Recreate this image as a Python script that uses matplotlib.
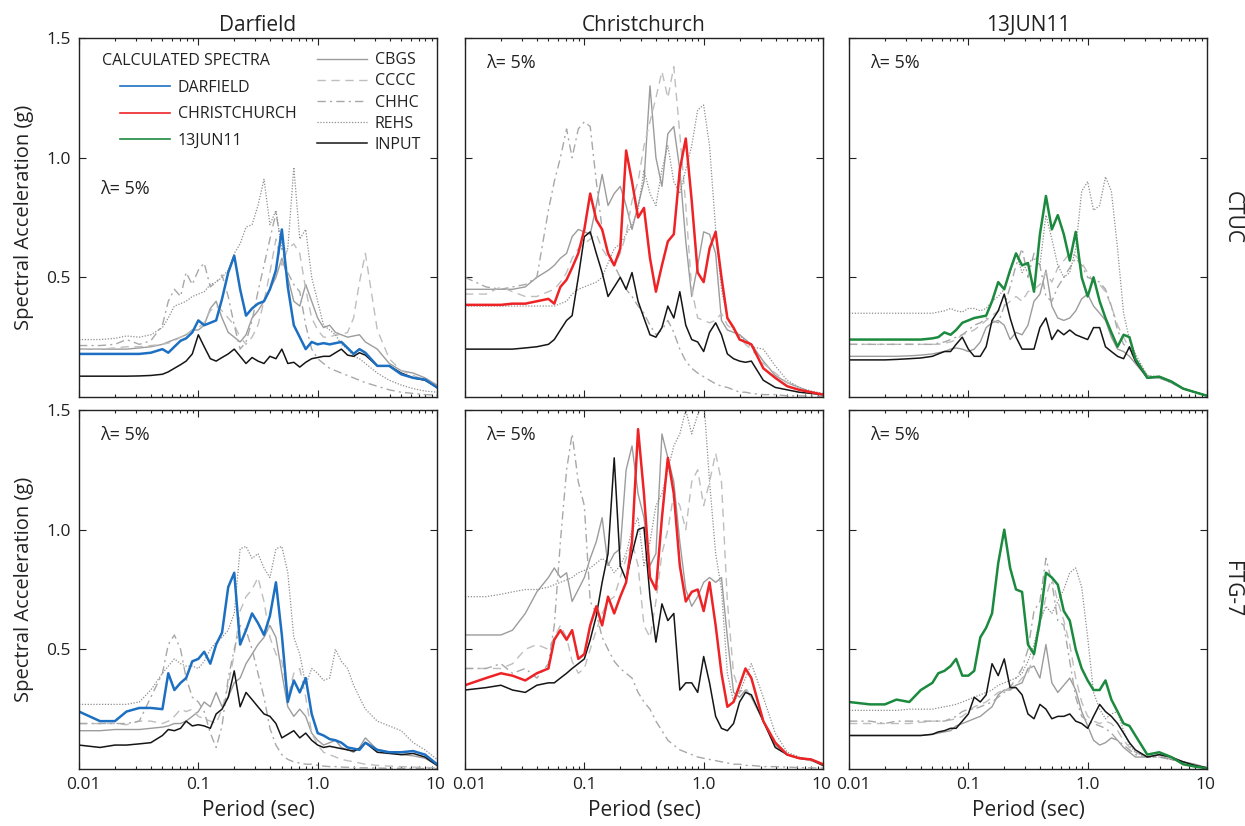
"""Response spectra, calculated vs recorded, sites CTUC and FTG-7."""

import matplotlib

matplotlib.use("Agg")
import matplotlib.pyplot as plt
import matplotlib.transforms as mtransforms
from matplotlib.lines import Line2D
from matplotlib.ticker import LogLocator, NullFormatter

plt.rcParams["font.family"] = ["Open Sans", "DejaVu Sans"]
TXT = "#222222"

# period grid (sec) shared by every spectrum
PERIOD = [0.01, 0.015, 0.02, 0.025, 0.032, 0.04, 0.05, 0.056, 0.063, 0.071,
          0.079, 0.089, 0.1, 0.112, 0.126, 0.141, 0.158, 0.178, 0.2, 0.224,
          0.251, 0.282, 0.316, 0.355, 0.398, 0.447, 0.501, 0.562, 0.631, 0.708,
          0.794, 0.891, 1.0, 1.12, 1.26, 1.41, 1.58, 1.78, 2.0, 2.24,
          2.51, 3.16, 3.98, 5.01, 6.31, 7.94, 10.0]

# ---- CTUC / Darfield
ctuc_dar_calc = [0.18, 0.18, 0.18, 0.18, 0.18, 0.185, 0.20, 0.185, 0.21, 0.235,
                 0.245, 0.27, 0.32, 0.30, 0.31, 0.32, 0.41, 0.52, 0.59, 0.45,
                 0.34, 0.37, 0.39, 0.40, 0.45, 0.53, 0.70, 0.46, 0.30, 0.25,
                 0.20, 0.23, 0.22, 0.225, 0.22, 0.225, 0.23, 0.205, 0.18, 0.20,
                 0.185, 0.13, 0.13, 0.095, 0.08, 0.073, 0.04]
ctuc_dar_input = [0.087, 0.087, 0.087, 0.087, 0.088, 0.09, 0.095, 0.105, 0.12, 0.135,
                  0.15, 0.18, 0.26, 0.21, 0.16, 0.15, 0.165, 0.18, 0.20, 0.17,
                  0.14, 0.165, 0.15, 0.14, 0.17, 0.16, 0.20, 0.14, 0.145, 0.125,
                  0.145, 0.16, 0.165, 0.17, 0.17, 0.185, 0.20, 0.175, 0.17, 0.185,
                  0.175, 0.13, 0.13, 0.10, 0.08, 0.07, 0.04]
ctuc_dar_cbgs = [0.20, 0.20, 0.20, 0.20, 0.205, 0.21, 0.22, 0.23, 0.24, 0.25,
                 0.26, 0.28, 0.28, 0.30, 0.37, 0.40, 0.33, 0.27, 0.25, 0.23,
                 0.26, 0.33, 0.36, 0.40, 0.45, 0.50, 0.58, 0.50, 0.40, 0.38,
                 0.47, 0.40, 0.33, 0.29, 0.30, 0.27, 0.26, 0.25, 0.255, 0.26,
                 0.23, 0.20, 0.14, 0.11, 0.10, 0.08, 0.05]
ctuc_dar_cccc = [0.20, 0.20, 0.205, 0.21, 0.21, 0.215, 0.22, 0.225, 0.235, 0.25,
                 0.26, 0.28, 0.29, 0.31, 0.36, 0.38, 0.36, 0.33, 0.30, 0.25,
                 0.22, 0.25, 0.30, 0.40, 0.52, 0.66, 0.55, 0.62, 0.64, 0.60,
                 0.45, 0.33, 0.28, 0.25, 0.25, 0.26, 0.26, 0.27, 0.33, 0.48,
                 0.60, 0.28, 0.16, 0.11, 0.09, 0.07, 0.05]
ctuc_dar_chhc = [0.215, 0.215, 0.22, 0.24, 0.22, 0.235, 0.30, 0.40, 0.45, 0.42,
                 0.52, 0.47, 0.53, 0.56, 0.46, 0.48, 0.51, 0.42, 0.30, 0.20,
                 0.23, 0.32, 0.44, 0.55, 0.66, 0.77, 0.62, 0.52, 0.47, 0.44,
                 0.30, 0.20, 0.16, 0.14, 0.12, 0.11, 0.10, 0.09, 0.08, 0.07,
                 0.06, 0.045, 0.03, 0.02, 0.015, 0.01, 0.008]
ctuc_dar_rehs = [0.24, 0.24, 0.245, 0.255, 0.25, 0.26, 0.29, 0.33, 0.38, 0.39,
                 0.40, 0.42, 0.43, 0.44, 0.47, 0.48, 0.50, 0.53, 0.60, 0.64,
                 0.71, 0.72, 0.80, 0.91, 0.72, 0.78, 0.62, 0.62, 0.96, 0.66,
                 0.70, 0.50, 0.40, 0.30, 0.28, 0.26, 0.22, 0.20, 0.17, 0.16,
                 0.14, 0.10, 0.07, 0.05, 0.035, 0.025, 0.02]

# ---- CTUC / Christchurch
ctuc_chc_calc = [0.385, 0.385, 0.385, 0.39, 0.39, 0.40, 0.41, 0.39, 0.46, 0.49,
                 0.54, 0.60, 0.70, 0.85, 0.74, 0.70, 0.60, 0.55, 0.62, 1.03,
                 0.90, 0.75, 0.79, 0.58, 0.44, 0.55, 0.65, 0.68, 0.95, 1.08,
                 0.82, 0.52, 0.48, 0.62, 0.69, 0.50, 0.33, 0.29, 0.24, 0.23,
                 0.22, 0.12, 0.08, 0.045, 0.03, 0.02, 0.01]
ctuc_chc_input = [0.20, 0.20, 0.20, 0.20, 0.205, 0.21, 0.22, 0.24, 0.28, 0.32,
                  0.34, 0.50, 0.67, 0.69, 0.60, 0.52, 0.42, 0.46, 0.50, 0.45,
                  0.52, 0.40, 0.33, 0.26, 0.25, 0.29, 0.38, 0.33, 0.44, 0.30,
                  0.24, 0.23, 0.19, 0.27, 0.31, 0.26, 0.18, 0.16, 0.15, 0.145,
                  0.15, 0.07, 0.04, 0.03, 0.02, 0.015, 0.01]
ctuc_chc_cbgs = [0.45, 0.45, 0.45, 0.45, 0.46, 0.50, 0.53, 0.55, 0.58, 0.60,
                 0.67, 0.70, 0.69, 0.68, 0.80, 0.93, 0.80, 0.85, 0.88, 0.80,
                 0.70, 0.80, 0.90, 1.30, 1.00, 0.88, 1.10, 1.13, 0.95, 0.65,
                 0.42, 0.55, 0.69, 0.68, 0.60, 0.32, 0.28, 0.27, 0.26, 0.24,
                 0.22, 0.15, 0.09, 0.06, 0.04, 0.02, 0.01]
ctuc_chc_cccc = [0.43, 0.43, 0.46, 0.44, 0.42, 0.42, 0.44, 0.45, 0.48, 0.52,
                 0.58, 0.62, 0.64, 0.66, 0.68, 0.62, 0.58, 0.55, 0.60, 0.68,
                 0.82, 0.90, 1.05, 1.15, 1.25, 1.36, 1.25, 1.38, 1.10, 0.80,
                 0.45, 0.33, 0.32, 0.31, 0.32, 0.35, 0.30, 0.28, 0.25, 0.22,
                 0.20, 0.14, 0.10, 0.06, 0.04, 0.02, 0.01]
ctuc_chc_chhc = [0.50, 0.46, 0.45, 0.46, 0.47, 0.50, 0.78, 0.90, 1.00, 1.12,
                 1.00, 1.12, 1.15, 1.13, 0.90, 0.70, 0.60, 0.55, 0.50, 0.45,
                 0.42, 0.38, 0.35, 0.30, 0.26, 0.28, 0.32, 0.27, 0.20, 0.15,
                 0.12, 0.10, 0.085, 0.07, 0.055, 0.045, 0.04, 0.03, 0.02, 0.02,
                 0.015, 0.01, 0.01, 0.005, 0.005, 0.004, 0.003]
ctuc_chc_rehs = [0.38, 0.38, 0.38, 0.38, 0.38, 0.38, 0.38, 0.38, 0.39, 0.40,
                 0.43, 0.45, 0.46, 0.47, 0.48, 0.50, 0.56, 0.62, 0.64, 0.68,
                 0.72, 0.78, 0.95, 0.85, 0.80, 0.95, 1.05, 0.90, 0.85, 0.95,
                 1.05, 1.20, 1.22, 1.05, 0.70, 0.45, 0.33, 0.28, 0.26, 0.23,
                 0.21, 0.20, 0.13, 0.07, 0.04, 0.025, 0.015]

# ---- CTUC / 13JUN11
ctuc_jun_calc = [0.24, 0.24, 0.24, 0.24, 0.24, 0.24, 0.245, 0.25, 0.27, 0.26,
                 0.28, 0.31, 0.32, 0.33, 0.335, 0.34, 0.40, 0.48, 0.45, 0.53,
                 0.60, 0.55, 0.56, 0.44, 0.68, 0.84, 0.70, 0.76, 0.68, 0.57,
                 0.69, 0.50, 0.42, 0.50, 0.40, 0.33, 0.27, 0.21, 0.26, 0.25,
                 0.16, 0.08, 0.085, 0.065, 0.035, 0.02, 0.005]
ctuc_jun_input = [0.155, 0.155, 0.155, 0.157, 0.16, 0.163, 0.17, 0.18, 0.19, 0.19,
                  0.22, 0.25, 0.20, 0.17, 0.17, 0.21, 0.32, 0.36, 0.43, 0.33,
                  0.25, 0.20, 0.20, 0.20, 0.29, 0.33, 0.24, 0.28, 0.26, 0.28,
                  0.26, 0.25, 0.24, 0.29, 0.29, 0.21, 0.19, 0.17, 0.16, 0.21,
                  0.15, 0.08, 0.085, 0.065, 0.035, 0.02, 0.005]
ctuc_jun_cbgs = [0.17, 0.17, 0.17, 0.17, 0.172, 0.175, 0.18, 0.185, 0.19, 0.20,
                 0.205, 0.20, 0.19, 0.20, 0.23, 0.29, 0.31, 0.32, 0.30, 0.24,
                 0.27, 0.26, 0.30, 0.40, 0.43, 0.53, 0.38, 0.33, 0.32, 0.33,
                 0.36, 0.41, 0.43, 0.38, 0.35, 0.32, 0.25, 0.20, 0.19, 0.17,
                 0.14, 0.08, 0.08, 0.06, 0.035, 0.02, 0.006]
ctuc_jun_cccc = [0.22, 0.22, 0.22, 0.22, 0.22, 0.22, 0.22, 0.22, 0.225, 0.23,
                 0.24, 0.26, 0.27, 0.28, 0.30, 0.32, 0.34, 0.36, 0.38, 0.40,
                 0.42, 0.40, 0.44, 0.45, 0.47, 0.52, 0.48, 0.54, 0.57, 0.60,
                 0.59, 0.56, 0.52, 0.48, 0.47, 0.44, 0.38, 0.30, 0.25, 0.20,
                 0.16, 0.09, 0.08, 0.06, 0.035, 0.02, 0.006]
ctuc_jun_chhc = [0.22, 0.22, 0.22, 0.22, 0.22, 0.22, 0.22, 0.225, 0.23, 0.24,
                 0.25, 0.26, 0.28, 0.30, 0.31, 0.33, 0.32, 0.31, 0.38, 0.46,
                 0.55, 0.62, 0.50, 0.60, 0.55, 0.42, 0.40, 0.46, 0.50, 0.54,
                 0.58, 0.55, 0.50, 0.49, 0.48, 0.45, 0.38, 0.28, 0.22, 0.20,
                 0.15, 0.085, 0.08, 0.06, 0.035, 0.02, 0.006]
ctuc_jun_rehs = [0.35, 0.35, 0.35, 0.35, 0.35, 0.35, 0.35, 0.355, 0.36, 0.37,
                 0.36, 0.355, 0.37, 0.37, 0.36, 0.37, 0.40, 0.42, 0.45, 0.52,
                 0.60, 0.52, 0.56, 0.58, 0.55, 0.76, 0.66, 0.55, 0.50, 0.52,
                 0.62, 0.86, 0.90, 0.78, 0.80, 0.92, 0.86, 0.62, 0.35, 0.24,
                 0.18, 0.09, 0.085, 0.065, 0.035, 0.02, 0.006]

# ---- FTG-7 / Darfield
ftg_dar_calc = [0.24, 0.20, 0.20, 0.24, 0.255, 0.255, 0.25, 0.40, 0.33, 0.36,
                0.38, 0.45, 0.46, 0.49, 0.44, 0.52, 0.57, 0.76, 0.82, 0.52,
                0.58, 0.65, 0.61, 0.56, 0.64, 0.78, 0.56, 0.28, 0.37, 0.32,
                0.38, 0.23, 0.15, 0.14, 0.125, 0.12, 0.11, 0.09, 0.085, 0.08,
                0.11, 0.08, 0.07, 0.07, 0.075, 0.06, 0.02]
ftg_dar_input = [0.10, 0.09, 0.10, 0.10, 0.105, 0.11, 0.14, 0.165, 0.16, 0.17,
                 0.20, 0.18, 0.185, 0.18, 0.17, 0.23, 0.25, 0.30, 0.41, 0.26,
                 0.32, 0.29, 0.26, 0.23, 0.22, 0.19, 0.13, 0.145, 0.16, 0.13,
                 0.15, 0.12, 0.10, 0.09, 0.095, 0.09, 0.085, 0.08, 0.075, 0.085,
                 0.11, 0.07, 0.065, 0.06, 0.065, 0.05, 0.015]
ftg_dar_cbgs = [0.16, 0.16, 0.165, 0.165, 0.165, 0.17, 0.175, 0.18, 0.19, 0.19,
                0.20, 0.22, 0.24, 0.28, 0.26, 0.32, 0.26, 0.30, 0.36, 0.38,
                0.44, 0.48, 0.52, 0.55, 0.60, 0.55, 0.40, 0.26, 0.22, 0.25,
                0.22, 0.15, 0.12, 0.10, 0.11, 0.12, 0.09, 0.08, 0.07, 0.09,
                0.13, 0.08, 0.07, 0.06, 0.055, 0.045, 0.015]
ftg_dar_cccc = [0.19, 0.19, 0.19, 0.185, 0.20, 0.20, 0.19, 0.20, 0.22, 0.25,
                0.24, 0.25, 0.22, 0.21, 0.20, 0.19, 0.25, 0.35, 0.48, 0.66,
                0.72, 0.75, 0.80, 0.70, 0.55, 0.48, 0.45, 0.30, 0.40, 0.42,
                0.30, 0.15, 0.10, 0.07, 0.06, 0.05, 0.04, 0.035, 0.03, 0.025,
                0.02, 0.015, 0.012, 0.01, 0.008, 0.006, 0.005]
ftg_dar_chhc = [0.19, 0.19, 0.19, 0.19, 0.20, 0.30, 0.40, 0.52, 0.56, 0.50,
                0.38, 0.30, 0.28, 0.24, 0.15, 0.09, 0.18, 0.38, 0.50, 0.60,
                0.58, 0.50, 0.40, 0.30, 0.17, 0.10, 0.06, 0.04, 0.03, 0.025,
                0.02, 0.02, 0.015, 0.012, 0.01, 0.01, 0.008, 0.007, 0.006, 0.005,
                0.005, 0.004, 0.003, 0.003, 0.002, 0.002, 0.002]
ftg_dar_rehs = [0.27, 0.27, 0.27, 0.27, 0.28, 0.33, 0.40, 0.43, 0.46, 0.44,
                0.43, 0.43, 0.42, 0.45, 0.50, 0.53, 0.55, 0.58, 0.65, 0.92,
                0.93, 0.88, 0.90, 0.84, 0.80, 0.92, 0.93, 0.82, 0.55, 0.48,
                0.35, 0.42, 0.40, 0.37, 0.38, 0.50, 0.45, 0.42, 0.35, 0.30,
                0.25, 0.20, 0.18, 0.16, 0.11, 0.08, 0.04]

# ---- FTG-7 / Christchurch
ftg_chc_calc = [0.35, 0.38, 0.40, 0.39, 0.37, 0.40, 0.42, 0.54, 0.58, 0.54,
                0.58, 0.46, 0.48, 0.60, 0.68, 0.60, 0.72, 0.65, 0.72, 0.78,
                0.95, 1.42, 1.15, 0.80, 0.75, 1.05, 1.30, 1.15, 0.85, 0.70,
                0.74, 0.75, 0.66, 0.78, 0.60, 0.40, 0.26, 0.28, 0.35, 0.42,
                0.38, 0.20, 0.11, 0.06, 0.045, 0.04, 0.02]
ftg_chc_input = [0.33, 0.34, 0.35, 0.33, 0.32, 0.35, 0.36, 0.36, 0.38, 0.40,
                 0.42, 0.44, 0.46, 0.54, 0.64, 0.78, 0.90, 1.30, 0.85, 0.79,
                 0.90, 1.00, 1.01, 0.72, 0.53, 0.69, 0.62, 0.65, 0.33, 0.36,
                 0.36, 0.32, 0.47, 0.36, 0.22, 0.17, 0.16, 0.19, 0.28, 0.32,
                 0.31, 0.20, 0.09, 0.06, 0.045, 0.04, 0.015]
ftg_chc_cbgs = [0.56, 0.56, 0.56, 0.58, 0.65, 0.74, 0.80, 0.84, 0.80, 0.82,
                0.70, 0.75, 0.80, 0.88, 0.95, 1.05, 0.85, 0.90, 0.92, 1.25,
                1.35, 1.15, 1.05, 0.85, 0.90, 1.40, 1.30, 1.20, 0.95, 0.75,
                0.68, 0.72, 0.78, 0.80, 0.78, 0.80, 0.55, 0.32, 0.30, 0.33,
                0.30, 0.20, 0.10, 0.06, 0.045, 0.035, 0.015]
ftg_chc_cccc = [0.42, 0.42, 0.42, 0.44, 0.50, 0.52, 0.50, 0.55, 0.60, 0.55,
                0.45, 0.40, 0.42, 0.50, 0.58, 0.65, 0.70, 0.72, 0.80, 0.88,
                0.95, 0.85, 0.60, 0.55, 0.70, 0.90, 1.00, 1.15, 1.10, 1.00,
                1.20, 1.25, 1.10, 1.20, 1.32, 1.20, 0.70, 0.40, 0.32, 0.34,
                0.30, 0.20, 0.10, 0.06, 0.045, 0.035, 0.015]
ftg_chc_chhc = [0.42, 0.42, 0.44, 0.40, 0.42, 0.38, 0.44, 0.60, 0.95, 1.25,
                1.40, 1.20, 1.10, 0.70, 0.65, 0.55, 0.50, 0.45, 0.42, 0.40,
                0.38, 0.32, 0.28, 0.25, 0.20, 0.16, 0.12, 0.10, 0.08, 0.07,
                0.06, 0.05, 0.045, 0.04, 0.035, 0.03, 0.025, 0.02, 0.02, 0.015,
                0.015, 0.01, 0.01, 0.008, 0.006, 0.005, 0.004]
ftg_chc_rehs = [0.72, 0.72, 0.73, 0.74, 0.75, 0.75, 0.76, 0.77, 0.78, 0.79,
                0.80, 0.82, 0.83, 0.84, 0.86, 0.88, 0.86, 0.82, 0.85, 0.90,
                1.00, 1.05, 0.85, 0.95, 1.10, 1.15, 1.25, 1.35, 1.40, 1.50,
                1.40, 1.48, 1.55, 1.20, 0.90, 0.75, 0.40, 0.28, 0.32, 0.38,
                0.44, 0.30, 0.15, 0.07, 0.05, 0.04, 0.02]

# ---- FTG-7 / 13JUN11
ftg_jun_calc = [0.28, 0.27, 0.27, 0.29, 0.28, 0.33, 0.36, 0.40, 0.41, 0.43,
                0.46, 0.39, 0.39, 0.41, 0.55, 0.59, 0.65, 0.86, 1.00, 0.84,
                0.75, 0.74, 0.52, 0.48, 0.62, 0.82, 0.80, 0.77, 0.66, 0.62,
                0.50, 0.42, 0.37, 0.33, 0.33, 0.37, 0.29, 0.24, 0.19, 0.18,
                0.14, 0.06, 0.07, 0.05, 0.02, 0.01, 0.003]
ftg_jun_input = [0.14, 0.14, 0.14, 0.14, 0.14, 0.14, 0.145, 0.155, 0.16, 0.17,
                 0.17, 0.20, 0.23, 0.30, 0.28, 0.31, 0.44, 0.39, 0.46, 0.34,
                 0.34, 0.31, 0.23, 0.21, 0.27, 0.25, 0.21, 0.22, 0.22, 0.23,
                 0.20, 0.19, 0.17, 0.22, 0.27, 0.24, 0.22, 0.19, 0.15, 0.11,
                 0.08, 0.05, 0.06, 0.05, 0.03, 0.015, 0.005]
ftg_jun_cbgs = [0.14, 0.14, 0.14, 0.14, 0.14, 0.14, 0.145, 0.15, 0.155, 0.16,
                0.18, 0.19, 0.20, 0.21, 0.22, 0.24, 0.26, 0.31, 0.33, 0.33,
                0.35, 0.36, 0.42, 0.43, 0.38, 0.52, 0.36, 0.32, 0.35, 0.38,
                0.33, 0.24, 0.18, 0.12, 0.10, 0.11, 0.13, 0.12, 0.09, 0.07,
                0.05, 0.05, 0.06, 0.04, 0.03, 0.02, 0.005]
ftg_jun_cccc = [0.19, 0.19, 0.19, 0.19, 0.19, 0.195, 0.20, 0.20, 0.20, 0.205,
                0.21, 0.22, 0.24, 0.26, 0.27, 0.28, 0.30, 0.32, 0.33, 0.34,
                0.35, 0.38, 0.40, 0.48, 0.60, 0.72, 0.80, 0.70, 0.62, 0.52,
                0.38, 0.28, 0.22, 0.20, 0.19, 0.20, 0.19, 0.16, 0.12, 0.09,
                0.07, 0.05, 0.055, 0.04, 0.03, 0.015, 0.005]
ftg_jun_chhc = [0.20, 0.20, 0.19, 0.20, 0.20, 0.20, 0.20, 0.20, 0.20, 0.21,
                0.22, 0.24, 0.25, 0.25, 0.26, 0.27, 0.28, 0.30, 0.32, 0.34,
                0.38, 0.42, 0.50, 0.66, 0.70, 0.88, 0.78, 0.62, 0.60, 0.45,
                0.30, 0.22, 0.20, 0.19, 0.18, 0.17, 0.15, 0.12, 0.10, 0.08,
                0.06, 0.05, 0.05, 0.04, 0.03, 0.015, 0.005]
ftg_jun_rehs = [0.245, 0.245, 0.245, 0.245, 0.25, 0.25, 0.25, 0.255, 0.26, 0.265,
                0.27, 0.28, 0.29, 0.30, 0.31, 0.32, 0.33, 0.35, 0.36, 0.37,
                0.38, 0.40, 0.45, 0.52, 0.62, 0.68, 0.65, 0.70, 0.75, 0.82,
                0.84, 0.76, 0.55, 0.32, 0.25, 0.21, 0.23, 0.24, 0.16, 0.10,
                0.07, 0.05, 0.05, 0.04, 0.03, 0.015, 0.005]

EVENTS = ["Darfield", "Christchurch", "13JUN11"]
SITES = ["CTUC", "FTG-7"]
CALC_COLOR = {"Darfield": "#1C6FC1", "Christchurch": "#EE2326", "13JUN11": "#1C8A3E"}

PANELS = {
    ("CTUC", "Darfield"): [ctuc_dar_cbgs, ctuc_dar_cccc, ctuc_dar_chhc, ctuc_dar_rehs, ctuc_dar_input, ctuc_dar_calc],
    ("CTUC", "Christchurch"): [ctuc_chc_cbgs, ctuc_chc_cccc, ctuc_chc_chhc, ctuc_chc_rehs, ctuc_chc_input, ctuc_chc_calc],
    ("CTUC", "13JUN11"): [ctuc_jun_cbgs, ctuc_jun_cccc, ctuc_jun_chhc, ctuc_jun_rehs, ctuc_jun_input, ctuc_jun_calc],
    ("FTG-7", "Darfield"): [ftg_dar_cbgs, ftg_dar_cccc, ftg_dar_chhc, ftg_dar_rehs, ftg_dar_input, ftg_dar_calc],
    ("FTG-7", "Christchurch"): [ftg_chc_cbgs, ftg_chc_cccc, ftg_chc_chhc, ftg_chc_rehs, ftg_chc_input, ftg_chc_calc],
    ("FTG-7", "13JUN11"): [ftg_jun_cbgs, ftg_jun_cccc, ftg_jun_chhc, ftg_jun_rehs, ftg_jun_input, ftg_jun_calc],
}

# recorded station styles: CBGS, CCCC, CHHC, REHS, INPUT
STATION_STYLE = [
    ("CBGS", dict(color="#9C9C9C", lw=1.0, ls="-")),
    ("CCCC", dict(color="#BEBEBE", lw=1.0, ls=(0, (6, 4)))),
    ("CHHC", dict(color="#A8A8A8", lw=1.0, ls=(0, (6, 3, 1.5, 3)))),
    ("REHS", dict(color="#8E8E8E", lw=0.9, ls=(0, (1, 1.3)))),
    ("INPUT", dict(color="#151515", lw=1.1, ls="-")),
]

W, H = 1245, 826
fig = plt.figure(figsize=(W / 100, H / 100), dpi=100)

lefts = [79, 465, 849]
tops = [38, 410]
pw, ph = 358, 359

for r, site in enumerate(SITES):
    for c, event in enumerate(EVENTS):
        ax = fig.add_axes([lefts[c] / W, 1 - (tops[r] + ph) / H, pw / W, ph / H])
        series = PANELS[(site, event)]
        for (name, style), sa in zip(STATION_STYLE, series[:5]):
            ax.plot(PERIOD, sa, **style)
        ax.plot(PERIOD, series[5], color=CALC_COLOR[event], lw=1.8)

        ax.set_xscale("log")
        ax.set_xlim(0.01, 10)
        ax.set_ylim(0, 1.5)
        ax.set_xticks([0.01, 0.1, 1, 10])
        ax.xaxis.set_minor_locator(LogLocator(base=10, subs=range(2, 10)))
        ax.xaxis.set_minor_formatter(NullFormatter())
        ax.set_yticks([0.5, 1.0, 1.5])
        ax.tick_params(which="both", direction="in", top=True, right=True,
                       width=0.8, colors="#222222", labelsize=12.5, labelcolor=TXT)
        ax.tick_params(which="major", length=5, pad=6)
        ax.tick_params(which="minor", length=2.5)
        for sp in ax.spines.values():
            sp.set_linewidth(1.0)
            sp.set_color("#222222")

        if r == 1:
            ax.set_xticklabels(["0.01", "0.1", "1.0", "10"])
            labels = ax.get_xticklabels()
            # nudge end labels apart so neighbouring panels don't collide
            labels[0].set_transform(labels[0].get_transform()
                                    + mtransforms.ScaledTranslation(4 / 100, 0, fig.dpi_scale_trans))
            labels[-1].set_transform(labels[-1].get_transform()
                                     + mtransforms.ScaledTranslation(-2 / 100, 0, fig.dpi_scale_trans))
            ax.set_xlabel("Period (sec)", fontsize=15, color=TXT)
            ax.xaxis.set_label_coords(0.5, -0.085)
        else:
            ax.set_xticklabels([])
        if c == 0:
            ax.set_yticklabels(["0.5", "1.0", "1.5"])
            ax.set_ylabel("Spectral Acceleration (g)", fontsize=14.5, color=TXT)
            ax.yaxis.set_label_coords(-0.125, 0.5)
        else:
            ax.set_yticklabels([])
        if r == 0:
            ax.set_title(event, fontsize=15, color=TXT, pad=5)

        lam_y = 0.58 if (r, c) == (0, 0) else 0.93
        ax.text(0.06, lam_y, "λ= 5%", transform=ax.transAxes, fontsize=13,
                color=TXT, va="center", ha="left")

        if (r, c) == (0, 0):
            ax.text(0.064, 0.936, "CALCULATED SPECTRA", transform=ax.transAxes,
                    fontsize=11.5, color=TXT, va="center", ha="left")
            calc_handles = [Line2D([], [], color=CALC_COLOR[e], lw=1.2) for e in EVENTS]
            leg1 = ax.legend(calc_handles, ["DARFIELD", "CHRISTCHURCH", "13JUN11"],
                             loc="upper left", bbox_to_anchor=(0.115, 0.883),
                             frameon=False, fontsize=11.5, handlelength=3.1,
                             handletextpad=0.5, labelspacing=0.64, borderpad=0,
                             borderaxespad=0, labelcolor=TXT)
            ax.add_artist(leg1)
            st_handles = [Line2D([], [], **s) for _, s in STATION_STYLE]
            ax.legend(st_handles, [n for n, _ in STATION_STYLE],
                      loc="upper left", bbox_to_anchor=(0.665, 0.96),
                      frameon=False, fontsize=11.5, handlelength=3.1,
                      handletextpad=0.5, labelspacing=0.32, borderpad=0,
                      borderaxespad=0, labelcolor=TXT)

    row_mid = 1 - (tops[r] + ph / 2) / H
    fig.text(1232 / W, row_mid, site, rotation=-90, fontsize=15, color=TXT,
             ha="center", va="center")

fig.savefig("out.png", dpi=100, facecolor="white")
